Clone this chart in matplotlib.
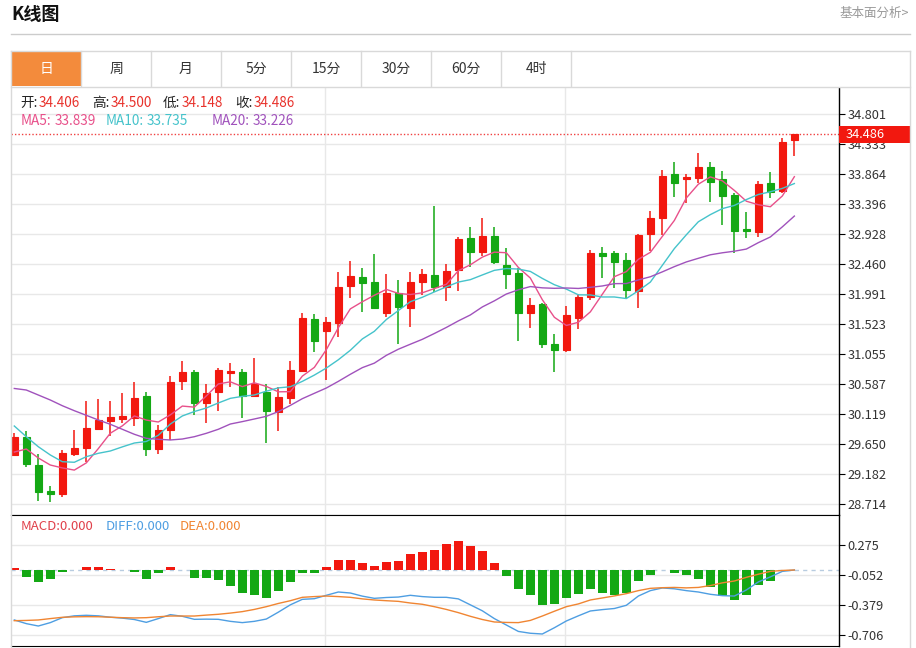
import numpy as np
import matplotlib
matplotlib.use('Agg')
import matplotlib.pyplot as plt
from matplotlib.patches import Rectangle
from matplotlib.lines import Line2D
import matplotlib.transforms as mtrans

plt.rcParams['font.family'] = ['Noto Sans CJK SC', 'DejaVu Sans']

# ---------------- data ----------------
opens = [29.482, 29.768, 29.326, 28.920, 28.869, 29.498, 29.587, 29.893, 30.008, 30.049,
         30.065, 30.403, 29.576, 29.873, 30.642, 30.778, 30.294, 30.461, 30.767, 30.783,
         30.403, 30.461, 30.154, 30.372, 30.798, 31.601, 31.418, 31.538, 32.120, 32.266,
         32.183, 31.694, 32.006, 31.782, 32.178, 32.292, 32.109, 32.370, 32.870, 32.646,
         32.906, 32.448, 32.319, 31.704, 31.839, 31.220, 31.121, 31.626, 31.944, 32.636,
         32.636, 32.526, 32.047, 32.927, 33.177, 33.869, 33.795, 33.811, 33.973, 33.786,
         33.536, 33.010, 32.968, 33.733, 33.603, 34.406]
highs = [29.830, 29.862, 29.493, 28.998, 29.560, 29.873, 30.321, 30.361, 30.325, 30.445,
         30.627, 30.470, 29.951, 30.715, 30.945, 30.809, 30.595, 30.836, 30.923, 30.829,
         30.992, 30.586, 30.539, 30.950, 31.694, 31.683, 31.641, 32.344, 32.515, 32.397,
         32.620, 32.308, 32.214, 32.334, 32.390, 33.369, 32.464, 32.881, 33.046, 33.177,
         33.046, 32.718, 32.397, 31.928, 31.860, 31.366, 31.808, 31.996, 32.675, 32.734,
         32.671, 32.631, 32.932, 33.296, 33.931, 34.051, 33.869, 34.192, 34.061, 33.920,
         33.567, 33.280, 33.764, 33.905, 34.426, 34.500]
lows = [29.467, 29.290, 28.769, 28.744, 28.831, 29.471, 29.378, 29.883, 29.784, 29.977,
        29.935, 29.471, 29.493, 29.716, 30.497, 30.102, 29.977, 30.169, 30.539, 30.065,
        30.392, 29.674, 29.862, 30.274, 30.778, 31.095, 30.653, 31.329, 31.928, 31.719,
        31.761, 31.632, 31.215, 31.485, 31.980, 32.031, 31.891, 32.047, 32.422, 32.589,
        32.464, 32.069, 31.267, 31.469, 31.157, 30.783, 31.095, 31.444, 31.902, 32.241,
        32.085, 31.913, 31.782, 32.671, 32.917, 33.505, 33.411, 33.724, 33.436, 33.073,
        32.640, 32.865, 32.890, 33.489, 33.577, 34.148]
closes = [29.768, 29.342, 28.909, 28.869, 29.518, 29.596, 29.904, 30.024, 30.071, 30.091,
          30.372, 29.581, 29.873, 30.627, 30.778, 30.289, 30.455, 30.809, 30.794, 30.403,
          30.586, 30.174, 30.388, 30.804, 31.616, 31.267, 31.558, 32.100, 32.276, 32.172,
          31.772, 32.016, 31.788, 32.188, 32.308, 32.100, 32.350, 32.849, 32.651, 32.906,
          32.490, 32.303, 31.704, 31.819, 31.215, 31.121, 31.663, 31.953, 32.631, 32.593,
          32.490, 32.058, 32.912, 33.177, 33.837, 33.733, 33.817, 33.983, 33.748, 33.530,
          32.984, 32.974, 33.708, 33.592, 34.373, 34.486]

# moving-average values read off the chart where the earlier history is not shown
ma5_head = [29.529, 29.576, 29.436, 29.326]
ma10_head = [29.935, 29.768, 29.612, 29.483, 29.378, 29.369, 29.456, 29.509, 29.545]
ma20_head = [30.521, 30.497, 30.419, 30.341, 30.252, 30.174, 30.102, 30.029, 29.962, 29.884,
             29.806, 29.743, 29.728, 29.717, 29.732, 29.768, 29.821, 29.884, 29.966]

macd = [0.018, -0.080, -0.131, -0.102, -0.018, -0.003, 0.029, 0.029, 0.011, 0.003,
        -0.025, -0.102, -0.036, 0.029, -0.005, -0.087, -0.087, -0.106, -0.171, -0.251,
        -0.273, -0.302, -0.229, -0.127, -0.036, -0.036, 0.036, 0.109, 0.109, 0.080,
        0.047, 0.084, 0.098, 0.171, 0.200, 0.218, 0.280, 0.316, 0.265, 0.207,
        0.073, -0.062, -0.204, -0.276, -0.382, -0.374, -0.305, -0.258, -0.211, -0.247,
        -0.273, -0.254, -0.124, -0.058, 0.000, -0.029, -0.055, -0.098, -0.189, -0.280,
        -0.327, -0.276, -0.167, -0.120, 0.000, 0.000]
diff = [-0.545, -0.585, -0.611, -0.574, -0.520, -0.500, -0.494, -0.500, -0.515, -0.525,
        -0.540, -0.571, -0.530, -0.487, -0.505, -0.538, -0.536, -0.538, -0.560, -0.574,
        -0.560, -0.535, -0.460, -0.380, -0.320, -0.313, -0.276, -0.240, -0.251, -0.285,
        -0.309, -0.300, -0.295, -0.276, -0.290, -0.298, -0.298, -0.315, -0.380, -0.445,
        -0.530, -0.600, -0.670, -0.690, -0.698, -0.630, -0.556, -0.500, -0.447, -0.432,
        -0.420, -0.385, -0.284, -0.225, -0.196, -0.205, -0.225, -0.240, -0.265, -0.280,
        -0.284, -0.218, -0.130, -0.075, -0.015, 0.000]
dea = [-0.553, -0.550, -0.545, -0.530, -0.516, -0.511, -0.509, -0.510, -0.515, -0.520,
       -0.523, -0.520, -0.510, -0.502, -0.502, -0.502, -0.492, -0.483, -0.470, -0.454,
       -0.430, -0.400, -0.365, -0.335, -0.298, -0.290, -0.284, -0.290, -0.298, -0.315,
       -0.327, -0.335, -0.342, -0.360, -0.374, -0.400, -0.430, -0.465, -0.505, -0.540,
       -0.567, -0.572, -0.574, -0.550, -0.502, -0.450, -0.400, -0.370, -0.327, -0.305,
       -0.283, -0.258, -0.225, -0.200, -0.193, -0.190, -0.195, -0.190, -0.170, -0.140,
       -0.120, -0.080, -0.046, -0.015, -0.005, 0.000]

price_ticks = [34.801, 34.333, 33.864, 33.396, 32.928, 32.460, 31.991, 31.523,
               31.055, 30.587, 30.119, 29.650, 29.182, 28.714]
macd_ticks = [0.275, -0.052, -0.379, -0.706]
tabs = ['日', '周', '月', '5分', '15分', '30分', '60分', '4时']
info_labels = ['开:', '高:', '低:', '收:']
ma_labels = ['MA5:', 'MA10:', 'MA20:']
macd_labels = ['MACD:', 'DIFF:', 'DEA:']
ma_last = [33.839, 33.735, 33.226]

# ---------------- derived ----------------
o = np.array(opens); h = np.array(highs); l = np.array(lows); c = np.array(closes)
n = len(c)
idx = np.arange(n)

def rolling(arr, w):
    return np.convolve(arr, np.ones(w) / w, mode='valid')

ma5 = np.concatenate([ma5_head, rolling(c, 5)])
ma10 = np.concatenate([ma10_head, rolling(c, 10)])
ma20 = np.concatenate([ma20_head, rolling(c, 20)])

RED = '#F2180F'
GREEN = '#14A814'
C_MA5 = '#E8508A'
C_MA10 = '#45C3CB'
C_MA20 = '#A052BC'
C_DIFF = '#4E9EE2'
C_DEA = '#F08532'
GRID = '#E8E8E8'
FRAME = '#D9D9D9'

W, H = 916, 648
fig = plt.figure(figsize=(W / 100, H / 100), dpi=100)

def fx(x):
    return x / W

def fy(y):
    return 1 - y / H

X0, X1 = -0.275, 68.72
YMIN, YMAX = 28.546, 35.211
MMIN, MMAX = -0.829, 0.600

ax = fig.add_axes([fx(11), fy(515), fx(839) - fx(11), fy(88) - fy(515)])
axm = fig.add_axes([fx(11), fy(646), fx(839) - fx(11), fy(515) - fy(646)])

for a in (ax, axm):
    a.set_xlim(X0, X1)
    a.set_facecolor('white')
    a.spines['left'].set_visible(False)
    a.spines['right'].set_color('black')
    a.spines['top'].set_color('black')
    a.spines['bottom'].set_color('black')
    a.spines['right'].set_linewidth(1)
    a.set_xticks([])
    a.yaxis.tick_right()
    a.tick_params(axis='y', direction='out', length=4, width=0.8, pad=2,
                  labelsize=9.2, labelcolor='#333333', color='black')
    for gx in (25.9, 45.9):
        a.axvline(gx, color=GRID, lw=1, zorder=0)
ax.spines['top'].set_visible(False)

# ---- main price panel ----
ax.set_ylim(YMIN, YMAX)
ax.set_yticks(price_ticks)
ax.set_yticklabels([f'{t:.3f}' for t in price_ticks])
ax.grid(axis='y', color=GRID, lw=1, zorder=0)
ax.set_axisbelow(True)

up = c >= o
cols = np.where(up, RED, GREEN)
ax.vlines(idx, l, h, colors=cols, lw=1.1, zorder=2)
ax.bar(idx, np.abs(c - o), bottom=np.minimum(o, c), width=0.62, color=cols,
       edgecolor=cols, linewidth=0.8, zorder=3)

ax.plot(idx, ma5, color=C_MA5, lw=1.0, zorder=4)
ax.plot(idx, ma10, color=C_MA10, lw=1.0, zorder=4)
ax.plot(idx, ma20, color=C_MA20, lw=1.0, zorder=4)

last = c[-1]
ax.axhline(last, color='#F04040', ls=(0, (1, 1.5)), lw=1, zorder=1)
bt = mtrans.blended_transform_factory(ax.transAxes, ax.transData)
box_h = 17 / 427 * (YMAX - YMIN)
ax.add_patch(Rectangle((1.0, last - box_h / 2), 71 / 828, box_h, transform=bt,
                       facecolor=RED, edgecolor='none', clip_on=False, zorder=10))
ax.text(1.0 + 7 / 828, last, f'{last:.3f}', transform=bt, color='white', va='center',
        ha='left', fontsize=9.2, zorder=11, clip_on=False)

# ---- MACD panel ----
axm.set_ylim(MMIN, MMAX)
axm.set_yticks(macd_ticks)
axm.set_yticklabels([f'{t:.3f}' for t in macd_ticks])
axm.grid(axis='y', color=GRID, lw=1, zorder=0)
axm.set_axisbelow(True)
mv = np.array(macd)
axm.axhline(0, color='#B8CCE0', ls=(0, (3, 3)), lw=1, zorder=1)
axm.bar(idx, mv, width=0.76, color=np.where(mv >= 0, RED, GREEN), zorder=2)
axm.plot(idx, diff, color=C_DIFF, lw=1.0, zorder=4)
axm.plot(idx, dea, color=C_DEA, lw=1.0, zorder=4)

# ---------------- page decoration ----------------
fig.text(fx(11), fy(14), 'K线图', fontsize=13, fontweight='bold', color='#111111',
         ha='left', va='center')
fig.text(fx(909), fy(13), '基本面分析>', fontsize=9, color='#999999', ha='right', va='center')
fig.add_artist(Line2D([fx(11), fx(910)], [fy(34), fy(34)], color='#CCCCCC', lw=1))

# tabs
for i, lab in enumerate(tabs):
    x0 = 11 + 70 * i
    if i == 0:
        fig.add_artist(Rectangle((fx(x0), fy(86)), fx(70), fy(51) - fy(86),
                                 facecolor='#F38B3C', edgecolor='none'))
    fig.add_artist(Line2D([fx(x0 + 70), fx(x0 + 70)], [fy(51), fy(86)], color=FRAME, lw=1))
    fig.text(fx(x0 + 35), fy(69), lab, fontsize=10, ha='center', va='center',
             color='white' if i == 0 else '#333333')
fig.add_artist(Line2D([fx(11), fx(910)], [fy(51), fy(51)], color=FRAME, lw=1))
fig.add_artist(Line2D([fx(11), fx(910)], [fy(86.5), fy(86.5)], color=FRAME, lw=1))
fig.add_artist(Line2D([fx(11), fx(11)], [fy(51), fy(648)], color=FRAME, lw=1))
fig.add_artist(Line2D([fx(909.5), fx(909.5)], [fy(51), fy(648)], color=FRAME, lw=1))

# info lines
vals = [o[-1], h[-1], l[-1], c[-1]]
lab_x = [20, 92, 163, 235]
for lab, v, x in zip(info_labels, vals, lab_x):
    fig.text(fx(x), fy(103), lab, fontsize=9.8, color='#222222', ha='left', va='center')
    fig.text(fx(x + 19), fy(103), f'{v:.3f}', fontsize=9.8, color='#E8302A', ha='left', va='center')

ma_x = [21, 106, 212]
for lab, v, x, col in zip(ma_labels, ma_last, ma_x, [C_MA5, C_MA10, C_MA20]):
    fig.text(fx(x), fy(121), lab, fontsize=9.8, color=col, ha='left', va='center')
    fig.text(fx(x + 7.2 * len(lab) + 5), fy(121), f'{v:.3f}', fontsize=9.8, color=col,
             ha='left', va='center')

mlast = [macd[-1], diff[-1], dea[-1]]
mx = [21, 106, 180]
for lab, v, x, col in zip(macd_labels, mlast, mx, ['#E0404A', C_DIFF, C_DEA]):
    fig.text(fx(x), fy(526), f'{lab}{abs(v):.3f}', fontsize=9.5, color=col, ha='left', va='center')

fig.savefig('out.png', dpi=100, facecolor='white')
